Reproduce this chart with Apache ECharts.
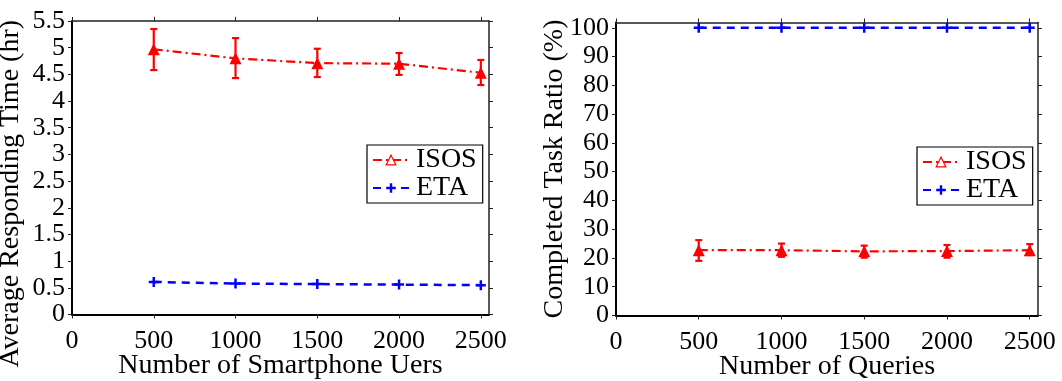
<!DOCTYPE html>
<html>
<head>
<meta charset="utf-8">
<script src="https://cdn.jsdelivr.net/npm/echarts@6/dist/echarts.min.js"></script>
<style>
html,body{margin:0;padding:0;background:#fff;}
#chart{width:1062px;height:381px;}
</style>
</head>
<body>
<div id="chart"></div>
<script>
// ---- data ----
var xVals = [500, 1000, 1500, 2000, 2500];
var xTicks = [0, 500, 1000, 1500, 2000, 2500];
var leftYTicks = [0, 0.5, 1, 1.5, 2, 2.5, 3, 3.5, 4, 4.5, 5, 5.5];
var rightYTicks = [0, 10, 20, 30, 40, 50, 60, 70, 80, 90, 100];

var respISOS = [4.97, 4.80, 4.71, 4.70, 4.53];
var respISOSLow = [4.58, 4.43, 4.45, 4.49, 4.30];
var respISOSHigh = [5.35, 5.18, 4.98, 4.90, 4.77];
var respETA = [0.61, 0.58, 0.57, 0.56, 0.55];

var ratioISOS = [22.7, 22.7, 22.3, 22.4, 22.7];
var ratioISOSLow = [19.0, 20.4, 20.1, 20.1, 21.0];
var ratioISOSHigh = [26.2, 25.0, 24.3, 24.5, 24.8];
var ratioETA = [100, 100, 100, 100, 100];

var seriesNames = ['ISOS', 'ETA'];
var leftXName = 'Number of Smartphone Uers';
var leftYName = 'Average Responding Time (hr)';
var rightXName = 'Number of Queries';
var rightYName = 'Completed Task Ratio (%)';

// ---- helpers ----
var FONT = 'Liberation Serif';
function pairs(xs, ys) { return xs.map(function (x, i) { return [x, ys[i]]; }); }
function triples(xs, lo, hi) { return xs.map(function (x, i) { return [x, lo[i], hi[i]]; }); }
function plain(v) { return String(v); }

var plusPath = 'path://M3,0H5V3H8V5H5V8H3V5H0V3H3Z';

function mainX(grid, name) {
  return {
    type: 'value', gridIndex: grid, min: 0, max: 2550, position: 'bottom',
    name: name, nameLocation: 'middle', nameGap: 37, nameMoveOverlap: false,
    nameTextStyle: { fontFamily: FONT, fontSize: 28, color: '#000' },
    axisLine: { show: true, onZero: false, lineStyle: { color: '#000', width: 2 } },
    axisTick: { show: true, inside: false, length: 4, customValues: xTicks, lineStyle: { color: '#222', width: 1 } },
    axisLabel: { show: true, customValues: xTicks, formatter: plain, showMinLabel: true, showMaxLabel: true,
      margin: 14, fontFamily: FONT, fontSize: 26, color: '#000' },
    splitLine: { show: false }
  };
}
function topX(grid) {
  return {
    type: 'value', gridIndex: grid, min: 0, max: 2550, position: 'top',
    axisLine: { show: true, onZero: false, lineStyle: { color: '#222', width: 1.5 } },
    axisTick: { show: true, inside: false, length: 4, customValues: xTicks, lineStyle: { color: '#222', width: 1 } },
    axisLabel: { show: false }, splitLine: { show: false }
  };
}
function mainY(grid, max, ticks, name, gap, shift) {
  return {
    type: 'value', gridIndex: grid, min: 0, max: max, position: 'left',
    name: name, nameLocation: 'middle', nameGap: gap, nameMoveOverlap: false,
    nameTextStyle: { fontFamily: FONT, fontSize: 28, color: '#000', padding: shift },
    axisLine: { show: true, onZero: false, lineStyle: { color: '#000', width: 2 } },
    axisTick: { show: true, inside: false, length: 4, customValues: ticks, lineStyle: { color: '#222', width: 1 } },
    axisLabel: { show: true, customValues: ticks, formatter: plain, showMinLabel: true, showMaxLabel: true,
      margin: 7, fontFamily: FONT, fontSize: 26, color: '#000' },
    splitLine: { show: false }
  };
}
function rightY(grid, max, ticks) {
  return {
    type: 'value', gridIndex: grid, min: 0, max: max, position: 'right',
    axisLine: { show: true, onZero: false, lineStyle: { color: '#222', width: 1.5 } },
    axisTick: { show: true, inside: false, length: 4, customValues: ticks, lineStyle: { color: '#222', width: 1 } },
    axisLabel: { show: false }, splitLine: { show: false }
  };
}

function errorBars(xAxisIndex, yAxisIndex, data) {
  return {
    type: 'custom', xAxisIndex: xAxisIndex, yAxisIndex: yAxisIndex, z: 4,
    silent: true, data: data,
    renderItem: function (params, api) {
      var x = api.value(0);
      var lo = api.coord([x, api.value(1)]);
      var hi = api.coord([x, api.value(2)]);
      var w = 3.5;
      var st = { stroke: '#ff0000', lineWidth: 2.2 };
      return {
        type: 'group',
        children: [
          { type: 'line', shape: { x1: lo[0], y1: lo[1], x2: hi[0], y2: hi[1] }, style: st },
          { type: 'line', shape: { x1: lo[0] - w, y1: lo[1], x2: lo[0] + w, y2: lo[1] }, style: st },
          { type: 'line', shape: { x1: hi[0] - w, y1: hi[1], x2: hi[0] + w, y2: hi[1] }, style: st }
        ]
      };
    }
  };
}

function isosLine(xi, yi, data) {
  return {
    name: seriesNames[0], type: 'line', xAxisIndex: xi, yAxisIndex: yi, z: 5,
    data: data, symbol: 'triangle', symbolSize: 12,
    itemStyle: { color: '#ff0000' },
    lineStyle: { color: '#ff0000', width: 2.2, type: [9, 4, 2, 4] }
  };
}
function etaLine(xi, yi, data) {
  return {
    name: seriesNames[1], type: 'line', xAxisIndex: xi, yAxisIndex: yi, z: 5,
    data: data, symbol: plusPath, symbolSize: 10,
    itemStyle: { color: '#0000ff' },
    lineStyle: { color: '#0000ff', width: 2.5, type: [8, 6] }
  };
}

function legend(left, top) {
  return {
    orient: 'vertical', left: left, top: top,
    data: [
      { name: seriesNames[0], itemStyle: { color: '#ffffff', borderColor: '#ff0000', borderWidth: 1.2 } },
      { name: seriesNames[1] }
    ],
    backgroundColor: '#fff', borderColor: '#000', borderWidth: 1.2,
    padding: [1, 6, 1, 5], itemGap: 0, itemWidth: 36, itemHeight: 12,
    textStyle: { fontFamily: FONT, fontSize: 28, color: '#000', lineHeight: 22, padding: [0, 0, 0, 2] },
    selectedMode: false
  };
}

var chart = echarts.init(document.getElementById('chart'), null, { renderer: 'canvas' });
chart.setOption({
  animation: false,
  backgroundColor: '#fff',
  grid: [
    { left: 72, top: 21, width: 417, height: 293.5, containLabel: false, outerBoundsMode: 'none' },
    { left: 616, top: 22.5, width: 422, height: 293, containLabel: false, outerBoundsMode: 'none' }
  ],
  xAxis: [mainX(0, leftXName), topX(0), mainX(1, rightXName), topX(1)],
  yAxis: [
    mainY(0, 5.5, leftYTicks, leftYName, 47, [0, 52, 0, 0]),
    rightY(0, 5.5, leftYTicks),
    mainY(1, 101.85, rightYTicks, rightYName, 47, [0, 0, 0, 0]),
    rightY(1, 101.85, rightYTicks)
  ],
  legend: [legend(367, 145), legend(917, 147)],
  series: [
    errorBars(0, 0, triples(xVals, respISOSLow, respISOSHigh)),
    isosLine(0, 0, pairs(xVals, respISOS)),
    etaLine(0, 0, pairs(xVals, respETA)),
    errorBars(2, 2, triples(xVals, ratioISOSLow, ratioISOSHigh)),
    isosLine(2, 2, pairs(xVals, ratioISOS)),
    etaLine(2, 2, pairs(xVals, ratioETA))
  ]
});
</script>
</body>
</html>
